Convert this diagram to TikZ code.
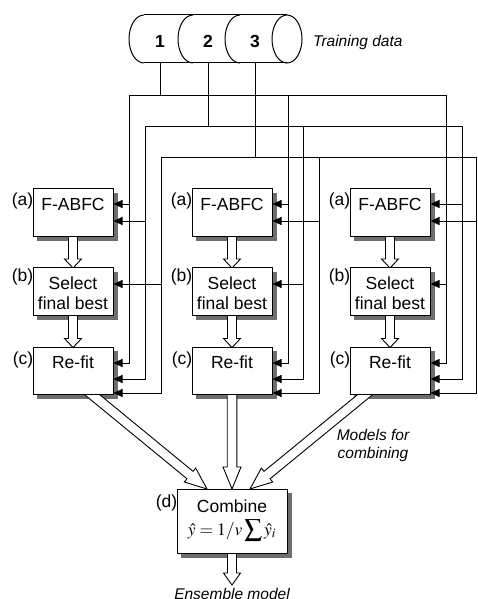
\documentclass[tikz,border=0pt]{standalone}
\usepackage{mathptmx}
\usepackage[no-math]{fontspec}
\setmainfont{Liberation Sans}
\usetikzlibrary{arrows.meta,calc}
\newcommand\boxfont{\fontsize{17.5}{20}\selectfont}
\newcommand\notefont{\fontsize{15.5}{18}\selectfont\itshape}
\newcommand\topstrut{\rule{0pt}{21.5pt}}
% hollow block arrow: #1 from, #2 to, #3 shaft half width, #4 head half width, #5 head length
\newcommand\hollowarrow[5]{%
  \draw[hollow] let \p1=(#1), \p2=(#2),
     \n1={atan2(\y2-\y1,\x2-\x1)}, \n2={veclen(\x2-\x1,\y2-\y1)-#5} in
   ($(\p1)+(\n1+90:#3)$) -- ($(\p1)+(\n1:\n2)+(\n1+90:#3)$)
   -- ($(\p1)+(\n1:\n2)+(\n1+90:#4)$) -- (\p2)
   -- ($(\p1)+(\n1:\n2)+(\n1-90:#4)$) -- ($(\p1)+(\n1:\n2)+(\n1-90:#3)$)
   -- ($(\p1)+(\n1-90:#3)$) -- cycle;}
\definecolor{shadowgray}{RGB}{110,110,110}
\begin{document}
\begin{tikzpicture}[x=1pt,y=-1pt,
  bus/.style={line width=0.9pt,line cap=rect},
  feed/.style={line width=0.9pt,-{Triangle[length=9pt,width=8pt]}},
  hollow/.style={draw,line width=0.9pt,fill=white},
  box/.style={draw,line width=1pt,fill=white,minimum width=80pt,minimum height=47pt,
    inner sep=0pt,align=center,font=\boxfont},
  boxshadow/.style={fill=shadowgray,draw=shadowgray,line width=0.5pt},
  tag/.style={anchor=base east,inner sep=0pt,font=\boxfont},
  note/.style={font=\notefont,align=center}]
\useasboundingbox (0,0) rectangle (477,599);

% box shadows (drawn first, under everything)
\foreach \cx in {73,232,390}
  \foreach \cy in {212.5,291.5,371}
    \filldraw[boxshadow] ({\cx-36},{\cy-19.5}) rectangle ({\cx+44},{\cy+27.5});
\filldraw[boxshadow] (181,493) rectangle (291,557);

% training data cylinder
\draw[line width=1pt] (144,15) -- (287,15) (144,63) -- (287,63);
\draw[line width=1pt] (287,39) ellipse [x radius=15pt, y radius=24pt];
\foreach \c in {144,193,240}
  \draw[line width=1pt] (\c,15) .. controls ({\c-8.28},15) and ({\c-15},25.75) .. ({\c-15},39)
     .. controls ({\c-15},52.25) and ({\c-8.28},63) .. (\c,63);
\node[font=\boxfont\bfseries,anchor=base,inner sep=0pt] (t1) at (160,48) {1};
\node[font=\boxfont\bfseries,anchor=base,inner sep=0pt] (t2) at (208,48) {2};
\node[font=\boxfont\bfseries,anchor=base,inner sep=0pt] (t3) at (255,48) {3};
\node[note,anchor=base west,inner sep=0pt] (td) at (313,46.5) {Training data};
\coordinate (s1) at (160,63);
\coordinate (s2) at (208,63);
\coordinate (s3) at (255,63);

% block arrows between stages (under the boxes)
\coordinate (e) at (232,585);
\foreach \i/\cx in {1/73,2/232,3/390}{
  \coordinate (ta\i) at (\cx,230);
  \coordinate (hb\i) at (\cx,268);
  \coordinate (tb\i) at (\cx,309);
  \coordinate (hc\i) at (\cx,347.5);
  \hollowarrow{ta\i}{hb\i}{4.5pt}{8.5pt}{9pt}
  \hollowarrow{tb\i}{hc\i}{4.5pt}{8.5pt}{9pt}
}
\coordinate (tc1) at (84,388);
\coordinate (tc2) at (232,388);
\coordinate (tc3) at (372,389);
\coordinate (hd1) at (207,489);
\coordinate (hd2) at (232,489);
\coordinate (hd3) at (250,489);
\coordinate (td0) at (232,547);
\hollowarrow{tc1}{hd1}{4.8pt}{9pt}{22pt}
\hollowarrow{tc2}{hd2}{4.8pt}{9pt}{22pt}
\hollowarrow{tc3}{hd3}{4.8pt}{9pt}{22pt}
\hollowarrow{td0}{e}{4.5pt}{8.5pt}{12pt}

% model columns
\foreach \i/\cx in {1/73,2/232,3/390}{
  \node[box] (a\i) at (\cx,212.5) {\topstrut F-ABFC\\\strut};
  \node[box] (b\i) at (\cx,291.5) {\topstrut Select\\\strut final best};
  \node[box] (c\i) at (\cx,371) {\topstrut Re-fit\\\strut};
  \node[tag] (la\i) at ($(a\i.north west)+(1,17.5)$) {(a)};
  \node[tag] (lb\i) at ($(b\i.north west)+(1,14.5)$) {(b)};
  \node[tag] (lc\i) at ($(c\i.north west)+(1,18)$) {(c)};
}

% combine
\node[box,minimum width=110pt,minimum height=64pt] (d) at (232,521)
  {Combine\\[3pt]$\displaystyle\hat{y}=1/v\sum\hat{y}_i$\rule[-7.6pt]{0pt}{8pt}};
\node[tag] (ld) at ($(d.north west)+(1,19)$) {(d)};
\node[note] (mc) at (373,445.5) {Models for\\combining};
\node[note,anchor=base,inner sep=0pt] (em) at (232,599) {Ensemble model};

% data set 1
\draw[bus] (s1) -- (160,95);
\draw[bus] (129,95) -- (446,95);
\foreach \bx/\i in {129/1,288/2,446/3} \draw[feed] (\bx,95) |- (c\i.east |- 0,363);
% data set 2
\draw[bus] (s2) -- (208,126);
\draw[bus] (145,126) -- (462,126);
\foreach \bx/\i in {145/1,303/2,462/3} \draw[feed] (\bx,126) |- (c\i.east |- 0,379);
% data set 3
\draw[bus] (s3) -- (255,157);
\draw[bus] (161,157) -- (476,157);
\foreach \bx/\i in {161/1,319/2,476/3} \draw[feed] (\bx,157) |- (c\i.east |- 0,393);
% branches to (a) and (b)
\draw[feed] (129,204) -- (a1.east |- 0,204);
\draw[feed] (145,221) -- (a1.east |- 0,221);
\draw[feed] (161,284) -- (b1.east |- 0,284);
\draw[feed] (288,204) -- (a2.east |- 0,204);
\draw[feed] (319,221) -- (a2.east |- 0,221);
\draw[feed] (303,284) -- (b2.east |- 0,284);
\draw[feed] (462,204) -- (a3.east |- 0,204);
\draw[feed] (476,221) -- (a3.east |- 0,221);
\draw[feed] (446,284) -- (b3.east |- 0,284);
\end{tikzpicture}
\end{document}
